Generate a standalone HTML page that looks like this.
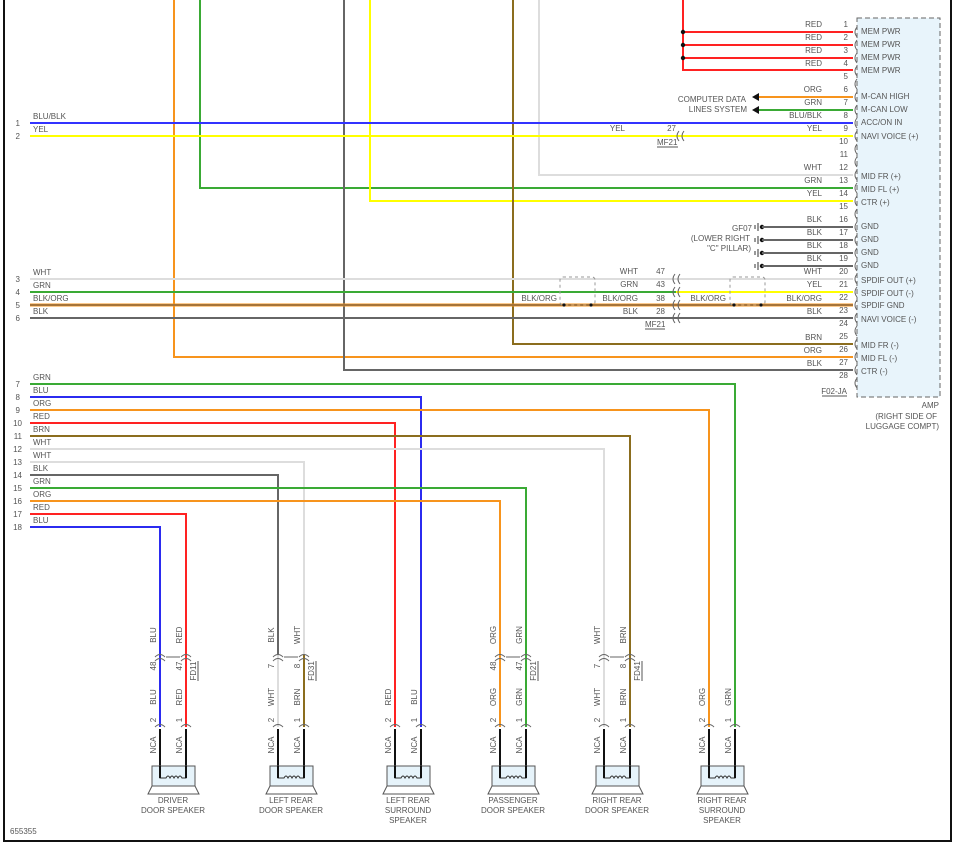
<!DOCTYPE html>
<html><head><meta charset="utf-8"><style>
html,body{margin:0;padding:0;background:#fff}
svg{display:block}
text{font-family:"Liberation Sans",sans-serif;font-size:8px;fill:#555}
.w{fill:none;stroke-width:2}
.c{fill:none;stroke:#666;stroke-width:1}
</style></head><body>
<svg width="967" height="851" viewBox="0 0 967 851" xmlns="http://www.w3.org/2000/svg">
<!-- border -->
<path d="M4 0 V841 H951 V0" fill="none" stroke="#111" stroke-width="2"/>
<!-- amp box -->
<rect x="857" y="18" width="83" height="379" fill="#e8f4fb" stroke="#666" stroke-dasharray="5,3"/>

<!-- top vertical wires -->
<path class="w" stroke="#f7941d" d="M174 0 V357 H853"/>
<path class="w" stroke="#3aaa35" d="M200 0 V188 H853"/>
<path class="w" stroke="#666" d="M344 0 V370 H853"/>
<path class="w" stroke="#ffff00" d="M370 0 V201 H853"/>
<path class="w" stroke="#8b6d1e" d="M513 0 V344 H853"/>
<path class="w" stroke="#ddd" d="M539 0 V175 H853"/>
<path class="w" stroke="#f22" d="M683 0 V70 H853 M683 32 H853 M683 45 H853 M683 58 H853"/>
<circle cx="683" cy="32" r="2.2" fill="#111"/><circle cx="683" cy="45" r="2.2" fill="#111"/><circle cx="683" cy="58" r="2.2" fill="#111"/>

<!-- computer data -->
<path class="w" stroke="#f7941d" d="M758 97 H853"/>
<path class="w" stroke="#3aaa35" d="M758 110 H853"/>
<polygon points="752,97 759,93 759,101" fill="#111"/>
<polygon points="752,110 759,106 759,114" fill="#111"/>
<text x="746" y="102" text-anchor="end">COMPUTER DATA</text>
<text x="747" y="112" text-anchor="end">LINES SYSTEM</text>

<!-- left wires 1,2 -->
<path class="w" stroke="#33f" d="M30 123 H853"/>
<path class="w" stroke="#ffff00" d="M30 136 H853"/>
<path class="c" d="M679 131 q-4 5 0 10 M684 131 q-4 5 0 10"/>
<text x="676" y="131" text-anchor="end">27</text>
<text x="657" y="145">MF21</text><path d="M657 147 H678" stroke="#555"/>
<text x="625" y="131" text-anchor="end">YEL</text>

<!-- ground -->
<g fill="#111">
<circle cx="762" cy="227" r="2.2"/><circle cx="762" cy="240" r="2.2"/><circle cx="762" cy="253" r="2.2"/><circle cx="762" cy="266" r="2.2"/>
</g>
<path class="w" stroke="#666" d="M762 227 H853 M762 240 H853 M762 253 H853 M762 266 H853"/>
<path d="M758 223 V231 M755 225 V229 M758 236 V244 M755 238 V242 M758 249 V257 M755 251 V255 M758 262 V270 M755 264 V268" stroke="#333"/>
<text x="752" y="231" text-anchor="end">GF07</text>
<text x="750" y="241" text-anchor="end">(LOWER RIGHT</text>
<text x="751" y="251" text-anchor="end">"C" PILLAR)</text>

<!-- wires 3-6 -->
<path class="w" stroke="#ddd" d="M30 279 H853"/>
<path class="w" stroke="#3aaa35" d="M30 292 H676"/>
<path class="w" stroke="#ffff00" d="M676 292 H853"/>
<path stroke="#f7941d" stroke-width="3" d="M30 305 H853"/>
<path stroke="#555" stroke-width="1" d="M30 305 H853"/>
<path class="w" stroke="#666" d="M30 318 H853"/>
<g class="c">
<path d="M675 274 q-4 5 0 10 M680 274 q-4 5 0 10 M675 287 q-4 5 0 10 M680 287 q-4 5 0 10 M675 300 q-4 5 0 10 M680 300 q-4 5 0 10 M675 313 q-4 5 0 10 M680 313 q-4 5 0 10"/>
</g>
<rect x="560" y="277" width="35" height="28" rx="3" fill="none" stroke="#999" stroke-dasharray="3,3"/>
<rect x="730" y="277" width="35" height="28" rx="3" fill="none" stroke="#999" stroke-dasharray="3,3"/>
<g fill="#111"><circle cx="564" cy="305" r="1.6"/><circle cx="591" cy="305" r="1.6"/><circle cx="734" cy="305" r="1.6"/><circle cx="761" cy="305" r="1.6"/></g>
<text x="557" y="301" text-anchor="end">BLK/ORG</text>
<text x="638" y="274" text-anchor="end">WHT</text>
<text x="638" y="287" text-anchor="end">GRN</text>
<text x="638" y="301" text-anchor="end">BLK/ORG</text>
<text x="638" y="314" text-anchor="end">BLK</text>
<text x="665" y="274" text-anchor="end">47</text>
<text x="665" y="287" text-anchor="end">43</text>
<text x="665" y="301" text-anchor="end">38</text>
<text x="665" y="314" text-anchor="end">28</text>
<text x="645" y="327">MF21</text><path d="M645 329 H665" stroke="#555"/>
<text x="726" y="301" text-anchor="end">BLK/ORG</text>

<!-- amp pin labels -->
<g>
<text x="822" y="27" text-anchor="end">RED</text><text x="822" y="40" text-anchor="end">RED</text><text x="822" y="53" text-anchor="end">RED</text><text x="822" y="66" text-anchor="end">RED</text>
<text x="822" y="92" text-anchor="end">ORG</text><text x="822" y="105" text-anchor="end">GRN</text><text x="822" y="118" text-anchor="end">BLU/BLK</text><text x="822" y="131" text-anchor="end">YEL</text>
<text x="822" y="170" text-anchor="end">WHT</text><text x="822" y="183" text-anchor="end">GRN</text><text x="822" y="196" text-anchor="end">YEL</text>
<text x="822" y="222" text-anchor="end">BLK</text><text x="822" y="235" text-anchor="end">BLK</text><text x="822" y="248" text-anchor="end">BLK</text><text x="822" y="261" text-anchor="end">BLK</text>
<text x="822" y="274" text-anchor="end">WHT</text><text x="822" y="287" text-anchor="end">YEL</text><text x="822" y="301" text-anchor="end">BLK/ORG</text><text x="822" y="314" text-anchor="end">BLK</text>
<text x="822" y="340" text-anchor="end">BRN</text><text x="822" y="353" text-anchor="end">ORG</text><text x="822" y="366" text-anchor="end">BLK</text>
</g>
<g text-anchor="end">
<text x="848" y="27">1</text><text x="848" y="40">2</text><text x="848" y="53">3</text><text x="848" y="66">4</text><text x="848" y="79">5</text><text x="848" y="92">6</text><text x="848" y="105">7</text><text x="848" y="118">8</text><text x="848" y="131">9</text><text x="848" y="144">10</text><text x="848" y="157">11</text><text x="848" y="170">12</text><text x="848" y="183">13</text><text x="848" y="196">14</text><text x="848" y="209">15</text><text x="848" y="222">16</text><text x="848" y="235">17</text><text x="848" y="248">18</text><text x="848" y="261">19</text><text x="848" y="274">20</text><text x="848" y="287">21</text><text x="848" y="300">22</text><text x="848" y="313">23</text><text x="848" y="326">24</text><text x="848" y="339">25</text><text x="848" y="352">26</text><text x="848" y="365">27</text><text x="848" y="378">28</text>
</g>
<path class="c" d="M857 27 q-4 5 0 10 M857 40 q-4 5 0 10 M857 53 q-4 5 0 10 M857 66 q-4 5 0 10 M857 79 q-4 5 0 10 M857 92 q-4 5 0 10 M857 105 q-4 5 0 10 M857 118 q-4 5 0 10 M857 131 q-4 5 0 10 M857 144 q-4 5 0 10 M857 157 q-4 5 0 10 M857 170 q-4 5 0 10 M857 183 q-4 5 0 10 M857 196 q-4 5 0 10 M857 209 q-4 5 0 10 M857 222 q-4 5 0 10 M857 235 q-4 5 0 10 M857 248 q-4 5 0 10 M857 261 q-4 5 0 10 M857 274 q-4 5 0 10 M857 287 q-4 5 0 10 M857 300 q-4 5 0 10 M857 313 q-4 5 0 10 M857 326 q-4 5 0 10 M857 339 q-4 5 0 10 M857 352 q-4 5 0 10 M857 365 q-4 5 0 10 M857 378 q-4 5 0 10"/>
<g>
<text x="861" y="34">MEM PWR</text><text x="861" y="47">MEM PWR</text><text x="861" y="60">MEM PWR</text><text x="861" y="73">MEM PWR</text>
<text x="861" y="99">M-CAN HIGH</text><text x="861" y="112">M-CAN LOW</text><text x="861" y="125">ACC/ON IN</text><text x="861" y="139">NAVI VOICE (+)</text>
<text x="861" y="179">MID FR (+)</text><text x="861" y="192">MID FL (+)</text><text x="861" y="205">CTR (+)</text>
<text x="861" y="229">GND</text><text x="861" y="242">GND</text><text x="861" y="255">GND</text><text x="861" y="268">GND</text>
<text x="861" y="283">SPDIF OUT (+)</text><text x="861" y="296">SPDIF OUT (-)</text><text x="861" y="308">SPDIF GND</text><text x="861" y="322">NAVI VOICE (-)</text>
<text x="861" y="348">MID FR (-)</text><text x="861" y="361">MID FL (-)</text><text x="861" y="374">CTR (-)</text>
</g>
<text x="847" y="394" text-anchor="end">F02-JA</text><path d="M822 396 H847" stroke="#555"/>
<text x="939" y="408" text-anchor="end">AMP</text>
<text x="937" y="419" text-anchor="end">(RIGHT SIDE OF</text>
<text x="939" y="429" text-anchor="end">LUGGAGE COMPT)</text>

<!-- left numbers/labels -->
<g text-anchor="end">
<text x="20" y="126">1</text><text x="20" y="139">2</text><text x="20" y="282">3</text><text x="20" y="295">4</text><text x="20" y="308">5</text><text x="20" y="321">6</text>
<text x="20" y="387">7</text><text x="20" y="400">8</text><text x="20" y="413">9</text><text x="22" y="426">10</text><text x="22" y="439">11</text><text x="22" y="452">12</text><text x="22" y="465">13</text><text x="22" y="478">14</text><text x="22" y="491">15</text><text x="22" y="504">16</text><text x="22" y="517">17</text><text x="22" y="530">18</text>
</g>
<g>
<text x="33" y="119">BLU/BLK</text><text x="33" y="132">YEL</text>
<text x="33" y="275">WHT</text><text x="33" y="288">GRN</text><text x="33" y="301">BLK/ORG</text><text x="33" y="314">BLK</text>
<text x="33" y="380">GRN</text><text x="33" y="393">BLU</text><text x="33" y="406">ORG</text><text x="33" y="419">RED</text><text x="33" y="432">BRN</text><text x="33" y="445">WHT</text><text x="33" y="458">WHT</text><text x="33" y="471">BLK</text><text x="33" y="484">GRN</text><text x="33" y="497">ORG</text><text x="33" y="510">RED</text><text x="33" y="523">BLU</text>
</g>

<!-- lower wires -->
<path class="w" stroke="#3aaa35" d="M30 384 H735 V727"/>
<path class="w" stroke="#2b2bf0" d="M30 397 H421 V727"/>
<path class="w" stroke="#f7941d" d="M30 410 H709 V727"/>
<path class="w" stroke="#f22" d="M30 423 H395 V727"/>
<path class="w" stroke="#8b6d1e" d="M30 436 H630 V727"/>
<path class="w" stroke="#ddd" d="M30 449 H604 V727"/>
<path class="w" stroke="#ddd" d="M30 462 H304 V655"/>
<path class="w" stroke="#8b6d1e" d="M304 655 V727"/>
<path class="w" stroke="#666" d="M30 475 H278 V655"/>
<path class="w" stroke="#ddd" d="M278 655 V727"/>
<path class="w" stroke="#3aaa35" d="M30 488 H526 V727"/>
<path class="w" stroke="#f7941d" d="M30 501 H500 V727"/>
<path class="w" stroke="#f22" d="M30 514 H186 V727"/>
<path class="w" stroke="#2b2bf0" d="M30 527 H160 V727"/>

<!-- inline connectors at 655 -->
<g class="c">
<path d="M155 657 q5 -5 10 0 M155 661 q5 -5 10 0 M181 657 q5 -5 10 0 M181 661 q5 -5 10 0 M166 657 H180"/>
<path d="M273 657 q5 -5 10 0 M273 661 q5 -5 10 0 M299 657 q5 -5 10 0 M299 661 q5 -5 10 0 M284 657 H298"/>
<path d="M495 657 q5 -5 10 0 M495 661 q5 -5 10 0 M521 657 q5 -5 10 0 M521 661 q5 -5 10 0 M506 657 H520"/>
<path d="M599 657 q5 -5 10 0 M599 661 q5 -5 10 0 M625 657 q5 -5 10 0 M625 661 q5 -5 10 0 M610 657 H624"/>
</g>
<!-- lower connectors + NCA + speakers -->
<g class="c">
<path d="M155 727 q5 -5 10 0 M181 727 q5 -5 10 0 M273 727 q5 -5 10 0 M299 727 q5 -5 10 0 M390 727 q5 -5 10 0 M416 727 q5 -5 10 0 M495 727 q5 -5 10 0 M521 727 q5 -5 10 0 M599 727 q5 -5 10 0 M625 727 q5 -5 10 0 M704 727 q5 -5 10 0 M730 727 q5 -5 10 0"/>
</g>
<path stroke="#111" stroke-width="2" d="M160 729 V776 M186 729 V776 M278 729 V776 M304 729 V776 M395 729 V776 M421 729 V776 M500 729 V776 M526 729 V776 M604 729 V776 M630 729 V776 M709 729 V776 M735 729 V776"/>
<g fill="#e6f3fa" stroke="#555">
<rect x="152" y="766" width="43" height="20"/><polygon points="152,786 195,786 199,794 148,794" fill="none"/>
<rect x="270" y="766" width="43" height="20"/><polygon points="270,786 313,786 317,794 266,794" fill="none"/>
<rect x="387" y="766" width="43" height="20"/><polygon points="387,786 430,786 434,794 383,794" fill="none"/>
<rect x="492" y="766" width="43" height="20"/><polygon points="492,786 535,786 539,794 488,794" fill="none"/>
<rect x="596" y="766" width="43" height="20"/><polygon points="596,786 639,786 643,794 592,794" fill="none"/>
<rect x="701" y="766" width="43" height="20"/><polygon points="701,786 744,786 748,794 697,794" fill="none"/>
</g>
<g fill="none" stroke="#333" stroke-width="1">
<path d="M160 766 V778 H166 q2 -4 4 0 q2 -4 4 0 q2 -4 4 0 q2 -4 4 0 H186 V766"/>
<path d="M278 766 V778 H284 q2 -4 4 0 q2 -4 4 0 q2 -4 4 0 q2 -4 4 0 H304 V766"/>
<path d="M395 766 V778 H401 q2 -4 4 0 q2 -4 4 0 q2 -4 4 0 q2 -4 4 0 H421 V766"/>
<path d="M500 766 V778 H506 q2 -4 4 0 q2 -4 4 0 q2 -4 4 0 q2 -4 4 0 H526 V766"/>
<path d="M604 766 V778 H610 q2 -4 4 0 q2 -4 4 0 q2 -4 4 0 q2 -4 4 0 H630 V766"/>
<path d="M709 766 V778 H715 q2 -4 4 0 q2 -4 4 0 q2 -4 4 0 q2 -4 4 0 H735 V766"/>
</g>
<path stroke="#111" stroke-width="2" d="M160 766 V778 M186 766 V778 M278 766 V778 M304 766 V778 M395 766 V778 M421 766 V778 M500 766 V778 M526 766 V778 M604 766 V778 M630 766 V778 M709 766 V778 M735 766 V778"/>

<!-- rotated labels -->
<g text-anchor="middle">
<!-- driver -->
<text transform="translate(156,635) rotate(-90)">BLU</text><text transform="translate(182,635) rotate(-90)">RED</text>
<text transform="translate(156,666) rotate(-90)">48</text><text transform="translate(182,666) rotate(-90)">47</text>
<text transform="translate(156,697) rotate(-90)">BLU</text><text transform="translate(182,697) rotate(-90)">RED</text>
<text transform="translate(156,720) rotate(-90)">2</text><text transform="translate(182,720) rotate(-90)">1</text>
<text transform="translate(156,745) rotate(-90)">NCA</text><text transform="translate(182,745) rotate(-90)">NCA</text>
<!-- LRD -->
<text transform="translate(274,635) rotate(-90)">BLK</text><text transform="translate(300,635) rotate(-90)">WHT</text>
<text transform="translate(274,666) rotate(-90)">7</text><text transform="translate(300,666) rotate(-90)">8</text>
<text transform="translate(274,697) rotate(-90)">WHT</text><text transform="translate(300,697) rotate(-90)">BRN</text>
<text transform="translate(274,720) rotate(-90)">2</text><text transform="translate(300,720) rotate(-90)">1</text>
<text transform="translate(274,745) rotate(-90)">NCA</text><text transform="translate(300,745) rotate(-90)">NCA</text>
<!-- LRS -->
<text transform="translate(391,697) rotate(-90)">RED</text><text transform="translate(417,697) rotate(-90)">BLU</text>
<text transform="translate(391,720) rotate(-90)">2</text><text transform="translate(417,720) rotate(-90)">1</text>
<text transform="translate(391,745) rotate(-90)">NCA</text><text transform="translate(417,745) rotate(-90)">NCA</text>
<!-- passenger -->
<text transform="translate(496,635) rotate(-90)">ORG</text><text transform="translate(522,635) rotate(-90)">GRN</text>
<text transform="translate(496,666) rotate(-90)">48</text><text transform="translate(522,666) rotate(-90)">47</text>
<text transform="translate(496,697) rotate(-90)">ORG</text><text transform="translate(522,697) rotate(-90)">GRN</text>
<text transform="translate(496,720) rotate(-90)">2</text><text transform="translate(522,720) rotate(-90)">1</text>
<text transform="translate(496,745) rotate(-90)">NCA</text><text transform="translate(522,745) rotate(-90)">NCA</text>
<!-- RRD -->
<text transform="translate(600,635) rotate(-90)">WHT</text><text transform="translate(626,635) rotate(-90)">BRN</text>
<text transform="translate(600,666) rotate(-90)">7</text><text transform="translate(626,666) rotate(-90)">8</text>
<text transform="translate(600,697) rotate(-90)">WHT</text><text transform="translate(626,697) rotate(-90)">BRN</text>
<text transform="translate(600,720) rotate(-90)">2</text><text transform="translate(626,720) rotate(-90)">1</text>
<text transform="translate(600,745) rotate(-90)">NCA</text><text transform="translate(626,745) rotate(-90)">NCA</text>
<!-- RRS -->
<text transform="translate(705,697) rotate(-90)">ORG</text><text transform="translate(731,697) rotate(-90)">GRN</text>
<text transform="translate(705,720) rotate(-90)">2</text><text transform="translate(731,720) rotate(-90)">1</text>
<text transform="translate(705,745) rotate(-90)">NCA</text><text transform="translate(731,745) rotate(-90)">NCA</text>
<!-- FD labels -->
<text transform="translate(196,671) rotate(-90)">FD11</text>
<text transform="translate(314,671) rotate(-90)">FD31</text>
<text transform="translate(536,671) rotate(-90)">FD21</text>
<text transform="translate(640,671) rotate(-90)">FD41</text>
</g>
<path stroke="#555" d="M198 661 V681 M316 661 V681 M538 661 V681 M642 661 V681"/>

<!-- speaker names -->
<g text-anchor="middle">
<text x="173" y="803">DRIVER</text><text x="173" y="813">DOOR SPEAKER</text>
<text x="291" y="803">LEFT REAR</text><text x="291" y="813">DOOR SPEAKER</text>
<text x="408" y="803">LEFT REAR</text><text x="408" y="813">SURROUND</text><text x="408" y="823">SPEAKER</text>
<text x="513" y="803">PASSENGER</text><text x="513" y="813">DOOR SPEAKER</text>
<text x="617" y="803">RIGHT REAR</text><text x="617" y="813">DOOR SPEAKER</text>
<text x="722" y="803">RIGHT REAR</text><text x="722" y="813">SURROUND</text><text x="722" y="823">SPEAKER</text>
</g>
<text x="10" y="834">655355</text>
</svg>
</body></html>
